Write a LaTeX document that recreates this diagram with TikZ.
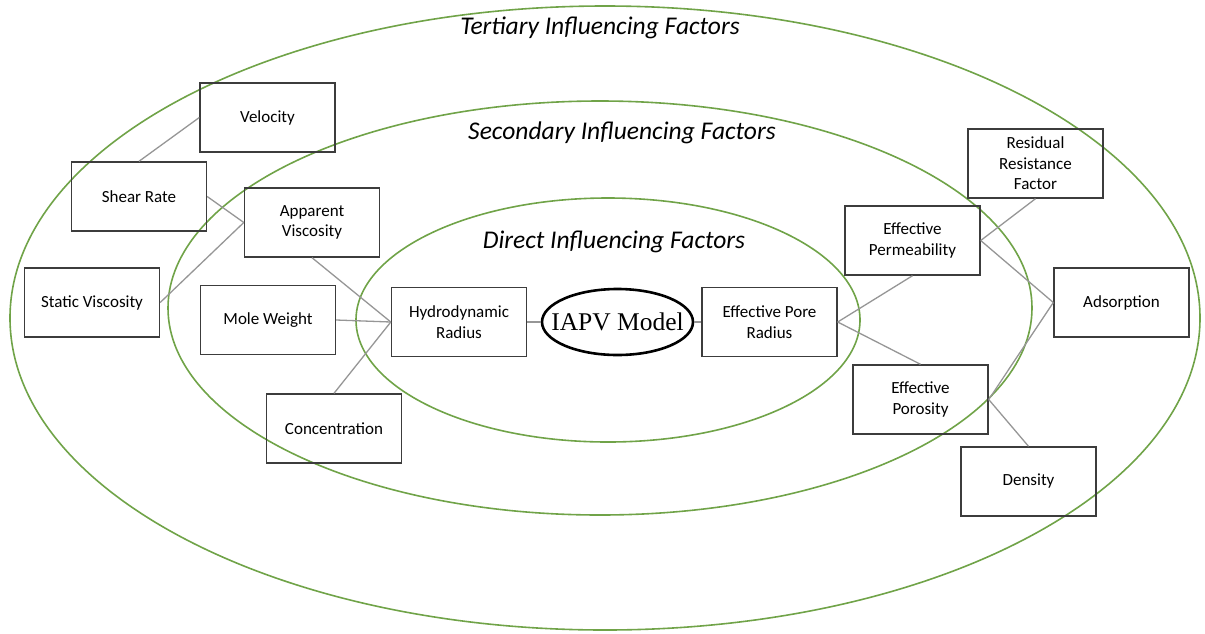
\documentclass[tikz,border=0pt]{standalone}
\usepackage{fontspec}
\setmainfont{Carlito}
\newfontfamily\seriffont{Liberation Serif}
\usetikzlibrary{shapes.geometric}
\definecolor{ringgreen}{RGB}{112,163,72}
\definecolor{linkgray}{RGB}{150,150,150}
\definecolor{boxgray}{RGB}{60,60,60}
\tikzset{
  ring/.style={draw=ringgreen, line width=1.6pt},
  factor/.style={draw=boxgray, line width=1.4pt, minimum width=135pt, minimum height=69pt,
    inner sep=0pt, align=center, font=\fontsize{17}{20.5}\selectfont},
  link/.style={draw=linkgray, line width=1.3pt},
  ringlabel/.style={font=\fontsize{25.5}{29}\selectfont\itshape, inner sep=0pt},
  model/.style={draw=black, ellipse, line width=2.6pt, minimum width=151pt, minimum height=66pt,
    inner xsep=-20pt, inner ysep=0pt, font=\fontsize{25.5}{29}\seriffont}
}
\begin{document}
\begin{tikzpicture}[x=1pt,y=-1pt]
\useasboundingbox (0,0) rectangle (1205,633);
% rings
\draw[ring] (605,318) ellipse [x radius=595pt, y radius=312pt];
\draw[ring] (600,308) ellipse [x radius=432pt, y radius=207pt];
\draw[ring] (608,320) ellipse [x radius=252pt, y radius=122pt];
% ring labels
\node[ringlabel] (lt) at (600,28) {Tertiary Influencing Factors};
\node[ringlabel] (ls) at (622,133) {Secondary Influencing Factors};
\node[ringlabel] (ld) at (614,242) {Direct Influencing Factors};
% boxes
\node[factor] (vel) at (267.5,117.5) {Velocity};
\node[factor] (shear) at (139,196.5) {Shear Rate};
\node[factor] (appv) at (312,222.5) {Apparent\\Viscosity};
\node[factor] (stat) at (92,302.5) {Static Viscosity};
\node[factor] (mole) at (268,320) {Mole Weight};
\node[factor] (conc) at (334,428.5) {Concentration};
\node[factor] (hyd) at (459,322) {Hydrodynamic\\Radius};
\node[model] (iapv) at (617.5,322) {IAPV Model};
\node[factor] (epr) at (769.5,322) {Effective Pore\\Radius};
\node[factor] (eperm) at (912.5,240.5) {Effective\\Permeability};
\node[factor] (rrf) at (1035.5,163.5) {Residual\\Resistance\\Factor};
\node[factor] (ads) at (1121.5,302.5) {Adsorption};
\node[factor] (epor) at (920.5,399.5) {Effective\\Porosity};
\node[factor] (dens) at (1028.5,481.5) {Density};
% links
\draw[link] (vel.west) -- (shear.north);
\draw[link] (shear.east) -- (appv.west);
\draw[link] (stat.east) -- (appv.west);
\draw[link] (appv.south) -- (hyd.west);
\draw[link] (mole.east) -- (hyd.west);
\draw[link] (conc.north) -- (hyd.west);
\draw[link] (hyd.east) -- (iapv.west);
\draw[link] (iapv.east) -- (epr.west);
\draw[link] (epr.east) -- (eperm.south);
\draw[link] (epr.east) -- (epor.north);
\draw[link] (eperm.east) -- (rrf.south);
\draw[link] (eperm.east) -- (ads.west);
\draw[link] (epor.east) -- (ads.west);
\draw[link] (epor.east) -- (dens.north);
\end{tikzpicture}
\end{document}
